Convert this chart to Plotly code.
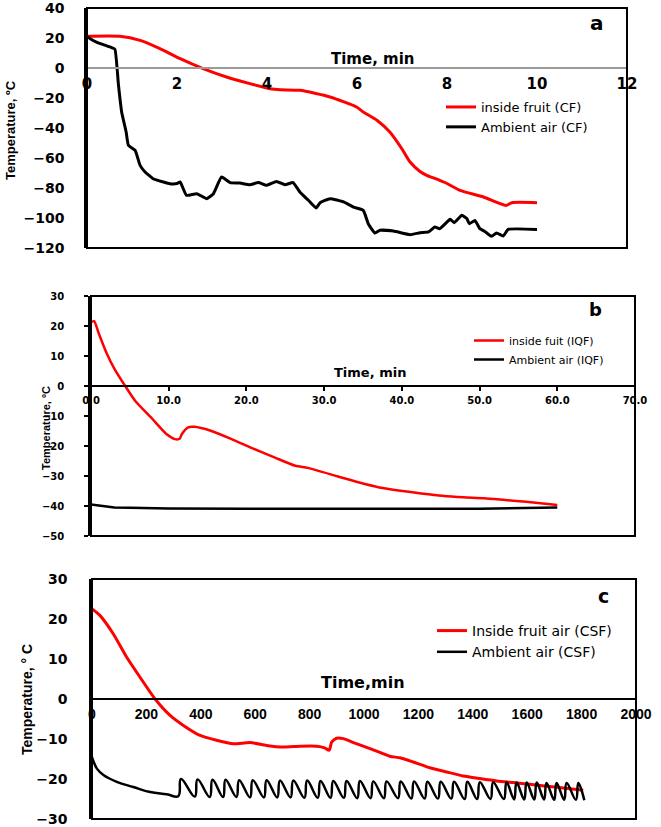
import plotly.graph_objects as go

W, H = 661, 827

# ---------------- Panel a (CF) ----------------
a_red_x = [0, 0.73, 1.18, 1.62, 2.07, 2.58, 3.1, 3.62, 4.07, 4.3, 4.73, 5.4, 5.99, 6.14, 6.45, 6.73,
           7.0, 7.18, 7.4, 7.55, 7.7, 8.0, 8.29, 8.81, 9.31, 9.44, 10.0]
a_red_y = [21.1, 21.1, 18.4, 12.9, 6.2, -0.4, -6, -10.4, -13.8, -14.5, -14.9, -19.3, -26, -29.3, -35, -42.7,
           -54, -62.7, -69, -71.6, -73.3, -77, -81.6, -86, -91.6, -89.8, -89.8]
a_blk_x = [0, 0.07, 0.21, 0.36, 0.55, 0.62, 0.70, 0.77, 0.87, 0.92, 1.07, 1.18, 1.29, 1.47, 1.70, 1.84,
           2.0, 2.07, 2.21, 2.44, 2.66, 2.81, 2.99, 3.18, 3.40, 3.62, 3.81, 3.99, 4.21, 4.40, 4.58, 4.73,
           4.92, 5.09, 5.18, 5.40, 5.70, 5.92, 6.14, 6.25, 6.40, 6.51, 6.81, 7.18, 7.40, 7.59, 7.73, 7.84,
           8.07, 8.16, 8.33, 8.44, 8.50, 8.62, 8.73, 8.84, 8.99, 9.10, 9.25, 9.36, 10.0]
a_blk_y = [21, 19.5, 17.3, 15.6, 13.5, 12.5, -11.6, -29.3, -42.7, -51.5, -54.9, -64.9, -69.3, -73.8, -76, -77.1,
           -77, -76, -84.9, -83.8, -87.1, -83.8, -72.7, -76.4, -76.7, -77.8, -76.4, -78.2, -75.6, -77.8, -76.4, -82.7,
           -88.2, -93.3, -89.8, -87.1, -89.3, -92.7, -94.9, -103.8, -110, -108.2, -108.7, -111.1, -109.8, -109.3, -106, -107.1,
           -100.9, -103.1, -98.2, -100.4, -103.8, -101.6, -107.1, -109, -112.2, -110, -112, -107.6, -107.6]

# ---------------- Panel b (IQF) ----------------
b_red_x = [0, 0.4, 1, 2, 3, 4.4, 5.7, 7.9, 9.7, 10.8, 11.4, 11.7, 12.5, 13.3, 15.4, 18.1, 20.8, 23.6,
           26.3, 27.9, 31.7, 34.4, 37.1, 39.8, 42.5, 45.2, 47.9, 50.6, 53.3, 56, 60]
b_red_y = [21.3, 21.6, 17.5, 11, 5.8, 0, -5, -11, -16, -17.7, -17.6, -16, -13.8, -13.6, -14.9, -17.7, -20.8, -23.8,
           -26.6, -27.3, -30.1, -32.1, -33.8, -34.9, -35.8, -36.6, -37.1, -37.4, -38, -38.6, -39.7]
b_blk_x = [0, 1, 2, 3, 5, 10, 20, 30, 40, 50, 55, 60]
b_blk_y = [-39.5, -39.9, -40.3, -40.5, -40.6, -40.8, -40.9, -40.8, -40.9, -40.9, -40.8, -40.5]

# ---------------- Panel c (CSF) ----------------
c_red_x = [0, 29, 78, 127, 176, 232, 287, 336, 397, 458, 519, 581, 642, 703, 765, 826, 855, 872, 881, 899,
           924, 961, 1022, 1095, 1132, 1181, 1242, 1304, 1365, 1426, 1488, 1549, 1610, 1671, 1733, 1806]
c_red_y = [22.5, 20.9, 16.3, 10.5, 5.5, 0, -4.1, -6.6, -9.1, -10.3, -11.2, -10.9, -11.6, -12.0, -11.8, -11.8,
           -12.2, -12.8, -10.8, -9.8, -9.9, -10.9, -12.4, -14.3, -14.7, -15.75, -17.2, -18.25, -19.25, -19.9,
           -20.5, -20.9, -21.3, -21.8, -22.25, -22.8]
# initial ambient decay
c_blk_start_x = [0, 5, 18, 42, 91, 152, 214, 275]
c_blk_start_y = [-14.5, -15.5, -17.4, -19.0, -20.7, -22.0, -23.25, -23.8]
# oscillation: trough before each peak, then the peak
c_trough_x = [317, 378, 433, 482, 531, 581, 632, 681, 730, 781, 830, 877, 926, 975, 1024, 1073, 1125, 1174,
              1223, 1272, 1321, 1370, 1416, 1465, 1514, 1552, 1589, 1626, 1662, 1699, 1736, 1779]
c_trough_y = [-24.3, -24.4, -24.5, -24.5, -24.5, -24.6, -24.6, -24.6, -24.6, -24.7, -24.7, -24.7, -24.7, -24.8,
              -24.8, -24.8, -24.8, -24.9, -24.9, -24.9, -24.9, -25.0, -25.0, -25.0, -25.0, -25.1, -25.1, -25.1,
              -25.1, -25.2, -25.2, -25.2]
c_peak_x = [327, 388, 443, 491, 541, 591, 642, 691, 740, 791, 840, 887, 936, 985, 1034, 1083, 1135, 1184,
            1233, 1282, 1331, 1380, 1426, 1475, 1524, 1561, 1598, 1635, 1671, 1708, 1745, 1788]
c_peak_y = [-20.0, -20.1, -20.2, -20.2, -20.3, -20.3, -20.3, -20.4, -20.4, -20.4, -20.5, -20.5, -20.5, -20.5,
            -20.6, -20.6, -20.6, -20.6, -20.7, -20.7, -20.7, -20.7, -20.8, -20.8, -20.8, -20.9, -20.9, -20.9,
            -21.0, -21.0, -21.0, -21.0]
c_blk_end_x = [1810]
c_blk_end_y = [-25.3]

c_blk_x = list(c_blk_start_x)
c_blk_y = list(c_blk_start_y)
for tx, ty, px, py in zip(c_trough_x, c_trough_y, c_peak_x, c_peak_y):
    c_blk_x += [tx, px]
    c_blk_y += [ty, py]
c_blk_x += c_blk_end_x
c_blk_y += c_blk_end_y

RED = "#ff0000"
BLK = "#000000"


def px_x(p):
    return p / W


def px_y(p):
    return 1 - p / H


fig = go.Figure()

fig.add_trace(go.Scatter(x=a_red_x, y=a_red_y, mode="lines", name="inside fruit (CF)",
                         line=dict(color=RED, width=3, shape="spline", smoothing=0.6),
                         xaxis="x", yaxis="y", legend="legend"))
fig.add_trace(go.Scatter(x=a_blk_x, y=a_blk_y, mode="lines", name="Ambient air (CF)",
                         line=dict(color=BLK, width=3, shape="spline", smoothing=0.4),
                         xaxis="x", yaxis="y", legend="legend"))
fig.add_trace(go.Scatter(x=b_red_x, y=b_red_y, mode="lines", name="inside fuit (IQF)",
                         line=dict(color=RED, width=2.5, shape="spline", smoothing=0.6),
                         xaxis="x2", yaxis="y2", legend="legend2"))
fig.add_trace(go.Scatter(x=b_blk_x, y=b_blk_y, mode="lines", name="Ambient air (IQF)",
                         line=dict(color=BLK, width=2.5),
                         xaxis="x2", yaxis="y2", legend="legend2"))
fig.add_trace(go.Scatter(x=c_red_x, y=c_red_y, mode="lines", name="Inside fruit air (CSF)",
                         line=dict(color=RED, width=3, shape="spline", smoothing=0.6),
                         xaxis="x3", yaxis="y3", legend="legend3"))
fig.add_trace(go.Scatter(x=c_blk_x, y=c_blk_y, mode="lines", name="Ambient air (CSF)",
                         line=dict(color=BLK, width=2.5, shape="spline", smoothing=1.2),
                         xaxis="x3", yaxis="y3", legend="legend3"))

panels = [
    dict(x0=87, x1=627, yt=8, yb=248, xr=[0, 12], xd=2, yr=[-120, 40], yd=20, z=68, zc="#9a9a9a",
         xfmt="", xfont=dict(family="DejaVu Sans", size=15, weight="bold", color="#000"),
         yfont=dict(family="DejaVu Sans", size=14, weight="bold", color="#000"), ticks="", xstand=2, ystand=17),
    dict(x0=91, x1=635, yt=296, yb=536, xr=[0, 70], xd=10, yr=[-50, 30], yd=10, z=386, zc="#000",
         xfmt=".1f", xfont=dict(family="DejaVu Sans", size=10, weight="bold", color="#000"),
         yfont=dict(family="DejaVu Sans", size=10, weight="bold", color="#000"), ticks="outside", xstand=1, ystand=18),
    dict(x0=92, x1=636, yt=579, yb=819, xr=[0, 2000], xd=200, yr=[-30, 30], yd=10, z=699, zc="#000",
         xfmt="", xfont=dict(family="Liberation Sans", size=14, weight="bold", color="#000"),
         yfont=dict(family="DejaVu Sans", size=14, weight="bold", color="#000"), ticks="", xstand=2, ystand=19),
]

layout = dict(width=W, height=H, margin=dict(l=0, r=0, t=0, b=0, autoexpand=False),
              paper_bgcolor="white", plot_bgcolor="white", showlegend=True)
shapes = []
for i, p in enumerate(panels):
    sfx = "" if i == 0 else str(i + 1)
    layout["xaxis" + sfx] = dict(
        domain=[px_x(p["x0"]), px_x(p["x1"])], range=p["xr"], dtick=p["xd"], tick0=0,
        anchor="free", position=px_y(p["z"]), side="bottom", automargin=False,
        showline=True, linecolor=p["zc"], linewidth=2, showgrid=False, zeroline=False,
        ticks=p["ticks"], ticklen=4, tickwidth=2, tickcolor="#000", ticklabeloverflow="allow",
        tickfont=p["xfont"], tickformat=p["xfmt"], ticklabelstandoff=p["xstand"])
    layout["yaxis" + sfx] = dict(
        domain=[px_y(p["yb"]), px_y(p["yt"])], range=p["yr"], dtick=p["yd"], tick0=0,
        anchor="x" + sfx, automargin=False, showline=True, linecolor="#000", linewidth=2.5,
        showgrid=False, zeroline=False, ticklabeloverflow="allow",
        ticks=p["ticks"], ticklen=4, tickwidth=2, tickcolor="#000",
        tickfont=p["yfont"], ticklabelstandoff=p["ystand"])
    shapes.append(dict(type="rect", xref="x" + sfx + " domain", yref="y" + sfx + " domain",
                       x0=0, x1=1, y0=0, y1=1, line=dict(color="#000", width=2), layer="above"))

layout["shapes"] = shapes

ann = []


def add_text(text, x, y, size, family="DejaVu Sans", weight="bold", angle=0):
    ann.append(dict(text=text, x=px_x(x), y=px_y(y), xref="paper", yref="paper", showarrow=False,
                    xanchor="center", yanchor="middle", textangle=angle,
                    font=dict(family=family, size=size, weight=weight, color="#000")))


add_text("Temperature, ºC", 10, 130, 13, family="Liberation Sans", angle=-90)
add_text("Temperature, ºC", 46, 428, 11, family="Liberation Sans", angle=-90)
add_text("Temperature, ° C", 27, 699, 14, family="Liberation Sans", angle=-90)
add_text("Time, min", 373, 59, 15)
add_text("Time, min", 370, 372, 13)
add_text("Time,min", 363, 682, 16)
add_text("a", 597, 23, 20)
add_text("b", 595, 309, 18)
add_text("c", 603, 596, 19)
layout["annotations"] = ann

leg_common = dict(bgcolor="rgba(0,0,0,0)", borderwidth=0, xanchor="left", yanchor="top",
                  tracegroupgap=0, itemwidth=30)
layout["legend"] = dict(leg_common, x=px_x(441), y=px_y(92),
                        font=dict(family="DejaVu Sans", size=13, color="#000"))
layout["legend2"] = dict(leg_common, x=px_x(469), y=px_y(326),
                         font=dict(family="DejaVu Sans", size=11, color="#000"))
layout["legend3"] = dict(leg_common, x=px_x(432), y=px_y(615),
                         font=dict(family="DejaVu Sans", size=14, color="#000"))

fig.update_layout(**layout)
fig.write_html("out.html", config={"displayModeBar": False},
               post_script="document.body.style.margin='0';document.body.style.overflow='hidden';")
